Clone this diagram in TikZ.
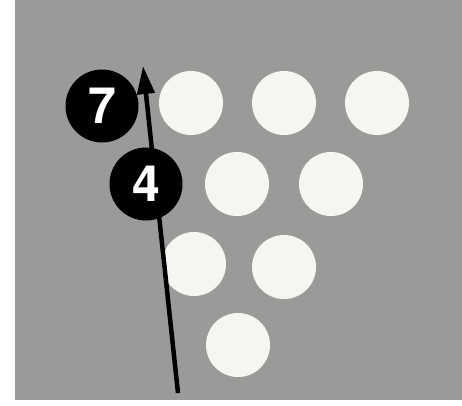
\documentclass[tikz,border=0pt]{standalone}
\usepackage{fontspec}
\setmainfont{TeX Gyre Heros}
\usetikzlibrary{arrows.meta}
\definecolor{bg}{RGB}{154,154,152}
\definecolor{pin}{RGB}{246,245,240}
\begin{document}
\begin{tikzpicture}[x=1pt,y=-1pt,
  pinnode/.style={circle,fill=pin,minimum size=64pt,inner sep=0pt},
  numnode/.style={circle,fill=black,minimum size=73pt,inner sep=0pt,text=white,font=\fontsize{50}{50}\selectfont\bfseries}]
\useasboundingbox (0,0) rectangle (462,405);
\fill[white] (0,0) rectangle (462,405);
\fill[bg] (15,0) rectangle (462,400);
\node[pinnode] (p1) at (191,103) {};
\node[pinnode] (p2) at (284,103) {};
\node[pinnode] (p3) at (377,103) {};
\node[pinnode] (p4) at (237,184) {};
\node[pinnode] (p5) at (331,184) {};
\node[pinnode] (p6) at (194,264) {};
\node[pinnode] (p7) at (284,267) {};
\node[pinnode] (p8) at (238,345) {};
\coordinate (start) at (178,393);
\coordinate (tip) at (143,66);
\draw[line width=4.5pt,-{Triangle[length=28pt,width=17pt]}] (start) -- (tip);
\node[numnode] (n7) at (102,106) {7};
\node[numnode] (n4) at (146,184) {4};
\end{tikzpicture}
\end{document}
